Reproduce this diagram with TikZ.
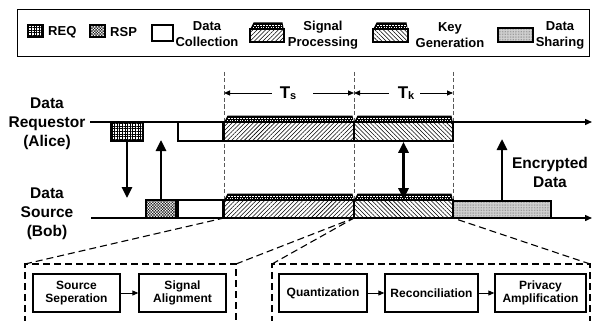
\documentclass[tikz,border=0pt]{standalone}
\usepackage{fontspec}
\setmainfont{Liberation Sans}
\usetikzlibrary{patterns.meta,arrows.meta}
\newcommand\stackon[1]{%
 \fill ([xshift=0.3pt]#1.north west) -- ([xshift=3.5pt,yshift=6.5pt]#1.north west) -- ([xshift=-1.5pt,yshift=6.5pt]#1.north east) -- ([xshift=-0.3pt]#1.north east) -- cycle;
 \draw[white,line width=0.5pt,dash pattern=on 2pt off 1pt] ([xshift=4pt,yshift=4.2pt]#1.north west) -- ([xshift=-2pt,yshift=4.2pt]#1.north east);
 \draw[white,line width=0.35pt,dash pattern=on 1pt off 1.5pt] ([xshift=3pt,yshift=1.8pt]#1.north west) -- ([xshift=-1.5pt,yshift=1.8pt]#1.north east);
}
\tikzset{
 blk/.style={draw, line width=1.6pt, inner sep=0pt, outer sep=0pt, anchor=north west},
 reqp/.style={pattern={Hatch[angle=0,distance=2.6pt,line width=0.5pt]}},
 rspp/.style={pattern={Hatch[angle=45,distance=2pt,line width=0.35pt]}},
 spp/.style={pattern={Lines[angle=45,distance=3pt,line width=0.55pt]}},
 kgp/.style={pattern={Lines[angle=-45,distance=3pt,line width=0.55pt]}},
 dsp/.style={preaction={fill=gray!35},pattern={Dots[distance=1.6pt,radius=0.3pt]},pattern color=gray!60!black},
 bigarrow/.style={line width=2.6pt, -{Triangle[length=11pt,width=10pt]}},
 dblarrow/.style={line width=2.6pt, {Triangle[length=11pt,width=10pt]}-{Triangle[length=11pt,width=10pt]}},
 smallarrow/.style={line width=0.8pt, -{Triangle[length=6pt,width=5pt]}},
 tl/.style={line width=1.4pt, -{Triangle[length=7pt,width=6pt]}},
 vdash/.style={line width=0.5pt, gray!70!black, dash pattern=on 4pt off 2.5pt},
 dframe/.style={line width=1.1pt, dash pattern=on 7pt off 4pt},
 side/.style={font=\bfseries\fontsize{15.5}{19}\selectfont, align=center, inner sep=0pt},
 legtxt/.style={font=\bfseries\fontsize{13}{16}\selectfont, align=center, inner sep=0pt},
 proc/.style={draw, line width=1.3pt, minimum height=38pt, inner sep=0pt, align=center, font=\bfseries\fontsize{12}{13.5}\selectfont},
 tlab/.style={font=\bfseries\fontsize{17}{17}\selectfont, inner sep=0pt},
}
\begin{document}
\begin{tikzpicture}[x=1pt,y=-1pt]
\useasboundingbox (0,0) rectangle (592,321);
% legend
\node[draw, line width=1.2pt, minimum width=572pt, minimum height=47pt, anchor=north west, inner sep=0pt] (legend) at (17,9) {};
\node[blk, line width=1.3pt, reqp, minimum width=15pt, minimum height=12pt] (lreq) at (28,25) {};
\node[legtxt, anchor=west] (lreqt) at (48,32) {REQ};
\node[blk, line width=1.3pt, rspp, minimum width=15pt, minimum height=12pt] (lrsp) at (90,25) {};
\node[legtxt, anchor=west] (lrspt) at (110,32) {RSP};
\node[blk, line width=1.5pt, minimum width=21pt, minimum height=16pt] (ldc) at (152,25) {};
\node[legtxt] (ldct) at (207,34.5) {Data\\Collection};
\node[blk, line width=1.3pt, spp, minimum width=34pt, minimum height=13pt] (lsp) at (250,29) {};
\stackon{lsp}
\node[legtxt] (lspt) at (323,35) {Signal\\Processing};
\node[blk, line width=1.3pt, kgp, minimum width=35pt, minimum height=13pt] (lkg) at (373,29) {};
\stackon{lkg}
\node[legtxt] (lkgt) at (450,35) {Key\\Generation};
\node[blk, line width=1.5pt, dsp, minimum width=35pt, minimum height=14pt] (lds) at (498,28) {};
\node[legtxt] (ldst) at (560,35) {Data\\Sharing};
% side labels
\node[side] (alice) at (47,124) {Data\\Requestor\\(Alice)};
\node[side] (bob) at (47,214) {Data\\Source\\(Bob)};
% timelines
\coordinate (aS) at (90,122); \coordinate (aE) at (592,122);
\coordinate (bS) at (91,218); \coordinate (bE) at (592,218);
\draw[tl] (aS) -- (aE);
\draw[tl] (bS) -- (bE);
% dashed verticals
\coordinate (v1) at (224,72); \coordinate (v2) at (354,72); \coordinate (v3) at (453,72);
\coordinate (v1b) at (224,218); \coordinate (v2b) at (354,218); \coordinate (v3b) at (453,218);
\draw[vdash] (v1) -- (v1b);
\draw[vdash] (v2) -- (v2b);
\draw[vdash] (v3) -- (v3b);
% Ts, Tk
\node[tlab] (ts) at (288,93) {T\raisebox{-1.5pt}{\fontsize{11}{11}\selectfont s}};
\node[tlab] (tk) at (406,93) {T\raisebox{-1.5pt}{\fontsize{11}{11}\selectfont k}};
\draw[smallarrow] ([xshift=-8pt]ts.west) -- (v1 |- ts);
\draw[smallarrow] ([xshift=17pt]ts.east) -- (v2 |- ts);
\draw[smallarrow] ([xshift=-9pt]tk.west) -- (v2 |- tk);
\draw[smallarrow] ([xshift=6pt]tk.east) -- (v3 |- tk);
% Alice blocks
\node[blk,reqp,minimum width=32pt,minimum height=19pt] (req) at (111,122) {};
\node[blk,minimum width=45pt,minimum height=19pt] (dcA) at (178,122) {};
\node[blk,spp,minimum width=130pt,minimum height=19pt] (spA) at (224,122) {};
\node[blk,kgp,minimum width=99pt,minimum height=19pt] (kgA) at (354,122) {};
\stackon{spA}
\stackon{kgA}
% Bob blocks
\node[blk,rspp,minimum width=30pt,minimum height=18pt] (rsp) at (146,200) {};
\node[blk,minimum width=45pt,minimum height=18pt] (dcB) at (178,200) {};
\node[blk,spp,minimum width=130pt,minimum height=18pt] (spB) at (224,200) {};
\node[blk,kgp,minimum width=99pt,minimum height=18pt] (kgB) at (354,200) {};
\node[blk,dsp,minimum width=98pt,minimum height=17pt] (dsB) at (453,201) {};
\stackon{spB}
\stackon{kgB}
% arrows
\coordinate (reqEnd) at (127,198);
\coordinate (rspEnd) at (161,140);
\coordinate (encEnd) at (502,139);
\draw[bigarrow] (req.south) -- (reqEnd);
\draw[bigarrow] (rsp.north) -- (rspEnd);
\draw[dblarrow] ([yshift=-0.8pt]kgA.south) -- ([yshift=0.8pt]kgB.north);
\draw[bigarrow] (dsB.north) -- (encEnd);
\node[side] (enc) at (550,172) {Encrypted\\Data};
% bottom frames
\coordinate (lTL) at (25,264); \coordinate (lTR) at (236,264);
\coordinate (lBL) at (25,323); \coordinate (lBR) at (236,323);
\coordinate (rTL) at (272,264); \coordinate (rTR) at (590,264);
\coordinate (rBL) at (272,323); \coordinate (rBR) at (590,323);
\draw[dframe] (lBL) -- (lTL) -- (lTR) -- (lBR);
\draw[dframe] (rBL) -- (rTL) -- (rTR) -- (rBR);
\draw[dframe] (lTL) -- (spB.south west);
\draw[dframe] (lTR) -- (spB.south east);
\draw[dframe] (rTL) -- (kgB.south west);
\draw[dframe] (rTR) -- (kgB.south east);
% process boxes
\node[proc, minimum width=87pt] (ss) at (76.5,293) {Source\\Seperation};
\node[proc, minimum width=87pt] (sa) at (182.5,293) {Signal\\Alignment};
\node[proc, minimum width=88pt] (qz) at (323,293) {Quantization};
\node[proc, minimum width=93pt] (rc) at (431.5,293) {Reconciliation};
\node[proc, minimum width=91pt] (pa) at (540.5,293) {Privacy\\Amplification};
\draw[smallarrow] (ss) -- (sa);
\draw[smallarrow] (qz) -- (rc);
\draw[smallarrow] (rc) -- (pa);
\end{tikzpicture}
\end{document}
